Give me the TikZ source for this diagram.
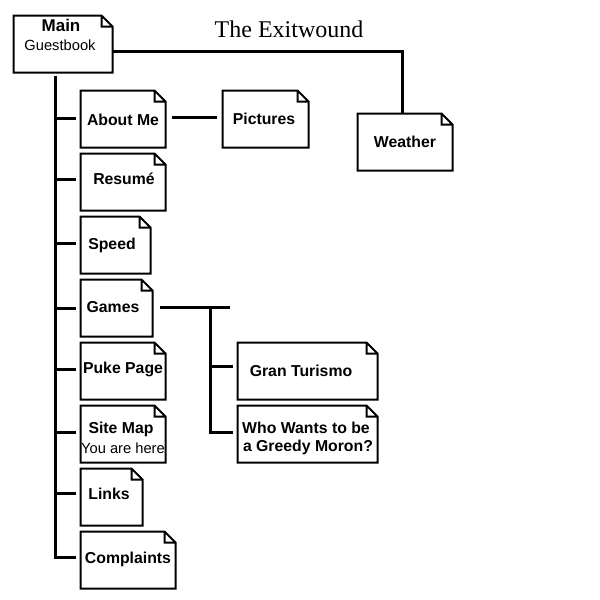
\documentclass[tikz,border=0pt]{standalone}
\usepackage{fontspec}
\setmainfont{Liberation Sans}
\newfontfamily\titlefont{Liberation Serif}
\usetikzlibrary{positioning}

\begin{document}
\begin{tikzpicture}[
    x=1pt, y=-1pt,
    pagebox/.style={rectangle, inner sep=0pt, outer sep=0pt,
                    minimum width=#1, minimum height=57pt,
                    append after command={\pgfextra{\let\lastbox\tikzlastnode
                      \draw[line width=2pt, line join=miter]
                      (\lastbox.south west) -- (\lastbox.north west)
                      -- ([xshift=-11pt]\lastbox.north east)
                      -- ([yshift=-11pt]\lastbox.north east)
                      -- (\lastbox.south east) -- cycle
                      ([xshift=-11pt]\lastbox.north east)
                      -- ([shift={(-11pt,-11pt)}]\lastbox.north east)
                      -- ([yshift=-11pt]\lastbox.north east);}}},
    pagebox/.default=85pt,
    lbl/.style={inner sep=0pt, text height=12pt, text depth=0pt,
                font=\fontsize{15.8}{18}\selectfont\bfseries},
    sublbl/.style={lbl, font=\fontsize{14.7}{18}\selectfont},
    wire/.style={line width=3pt},
]
\useasboundingbox (0,0) rectangle (600,600);

% Top level
\node[pagebox=99pt] (main) at (63,44) {};
\node[pagebox=86pt] (pictures) at (265.5,119) {};
\node[pagebox=95pt] (weather) at (405,142) {};

% Left column
\node[pagebox] (about) at (123,119) {};
\node[pagebox, below right=6pt and 0pt of about.south west]  (resume) {};
\node[pagebox=70pt, below right=6pt and 0pt of resume.south west] (speed) {};
\node[pagebox=72pt, below right=6pt and 0pt of speed.south west]  (games) {};
\node[pagebox, below right=6pt and 0pt of games.south west]  (puke) {};
\node[pagebox, below right=6pt and 0pt of puke.south west]   (sitemap) {};
\node[pagebox=62pt, below right=6pt and 0pt of sitemap.south west] (links) {};
\node[pagebox=95pt, below right=6pt and 0pt of links.south west]   (complaints) {};

% Games children
\node[pagebox=140pt] (gran) at (307.5,371) {};
\node[pagebox=140pt, below right=6pt and 0pt of gran.south west] (moron) {};

% Texts
\node[inner sep=0pt, text height=16pt, text depth=0pt, font=\fontsize{24}{28}\selectfont\titlefont] (title) at (289,29) {The Exitwound};
\node[lbl, font=\fontsize{17}{18}\selectfont\bfseries] (t-main) at (61,25) {Main};
\node[sublbl] (t-guest) at (60,44) {Guestbook};
\node[lbl] (t-about) at (123,119) {About Me};
\node[lbl] (t-pictures) at (264,118) {Pictures};
\node[lbl] (t-weather) at (405,141) {Weather};
\node[lbl] (t-resume) at (124,178) {Resumé};
\node[lbl] (t-speed) at (112,243) {Speed};
\node[lbl] (t-games) at (113,306) {Games};
\node[lbl] (t-puke) at (123,367) {Puke Page};
\node[lbl] (t-site) at (121,427) {Site Map};
\node[sublbl] (t-here) at (123,447) {You are here};
\node[lbl] (t-links) at (109,493) {Links};
\node[lbl] (t-compl) at (128,557) {Complaints};
\node[lbl] (t-gran) at (301,370) {Gran Turismo};
\node[lbl] (t-who) at (306,427) {Who Wants to be};
\node[lbl] (t-moron) at (308,445) {a Greedy Moron?};

% Trunk
\coordinate (trunk) at (55,76);
\coordinate (fork) at (210,307);
\draw[wire, line join=miter] (trunk) -- ([yshift=3pt]trunk |- complaints.west) -- ([shift={(-4.5pt,3pt)}]complaints.west);

% Branches
\draw[wire] ([yshift=1pt]about.west -| trunk) -- ([shift={(-4.5pt,1pt)}]about.west);
\draw[wire] ([yshift=3pt]resume.west -| trunk) -- ([shift={(-4.5pt,3pt)}]resume.west);
\draw[wire] ([yshift=2pt]speed.west -| trunk) -- ([shift={(-4.5pt,2pt)}]speed.west);
\draw[wire] (games.west -| trunk) -- ([xshift=-4.5pt]games.west);
\draw[wire] ([yshift=2pt]puke.west -| trunk) -- ([shift={(-4.5pt,2pt)}]puke.west);
\draw[wire] ([yshift=2pt]sitemap.west -| trunk) -- ([shift={(-4.5pt,2pt)}]sitemap.west);
\draw[wire] ([yshift=4pt]links.west -| trunk) -- ([shift={(-4.5pt,4pt)}]links.west);

% Other links
\draw[wire, line join=miter] ([yshift=-7pt]main.east) -| ([xshift=-3pt]weather.north);
\draw[wire] ([shift={(6.5pt,2pt)}]about.east) -- ([shift={(-5.5pt,2pt)}]pictures.west);
\draw[wire] ([shift={(7.5pt,1pt)}]games.east) -- ([shift={(77.5pt,1pt)}]games.east);
\draw[wire, line join=miter] (fork) -- ([yshift=2pt]fork |- moron.west) -- ([shift={(-4.5pt,2pt)}]moron.west);
\draw[wire] ([yshift=5pt]fork |- gran.west) -- ([shift={(-4.5pt,5pt)}]gran.west);
\end{tikzpicture}
\end{document}
